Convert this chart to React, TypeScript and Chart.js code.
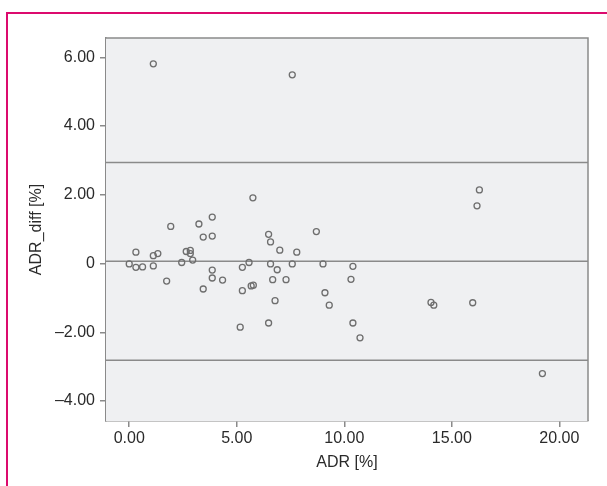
import React, { useEffect, useRef } from "react";
import { Chart, registerables } from "chart.js";

Chart.register(...registerables);

const adrValues = [
  1.12, 7.58, 5.75, 1.93, 3.24, 3.86, 3.44, 3.86, 0.31, 1.12, 1.33, 2.65, 2.84, 2.84, 2.95, 2.44,
  0.0, 0.31, 0.62, 1.12, 6.48, 6.57, 7.0, 7.79, 8.7, 5.57, 5.26, 6.57, 7.58, 9.01, 6.88, 3.86,
  1.74, 3.86, 4.34, 3.44, 5.26, 5.67, 5.77, 6.67, 7.29, 6.78, 5.16, 6.48, 9.1, 9.3, 16.28, 16.17,
  10.4, 10.31, 10.4, 10.73, 14.03, 14.16, 15.97, 19.21,
];
const diffValues = [
  5.81, 5.49, 1.91, 1.08, 1.15, 1.35, 0.77, 0.8, 0.33, 0.23, 0.29, 0.35, 0.38, 0.29, 0.1, 0.03,
  -0.01, -0.11, -0.1, -0.07, 0.85, 0.63, 0.39, 0.33, 0.93, 0.03, -0.11, -0.01, -0.01, -0.01, -0.18, -0.19,
  -0.51, -0.42, -0.48, -0.74, -0.79, -0.65, -0.63, -0.47, -0.47, -1.08, -1.85, -1.73, -0.85, -1.21, 2.14, 1.68,
  -0.08, -0.46, -1.73, -2.16, -1.13, -1.21, -1.14, -3.2,
];
// mean difference and limits of agreement
const referenceLines = [2.94, 0.07, -2.81];

const xMin = -1.08;
const xMax = 21.33;
const yMin = -4.58;
const yMax = 6.56;

const AXIS_GRAY = "#8a8a8a";
const TEXT = "#2a2a2a";
const FONT = "'Liberation Sans', Arial, sans-serif";

const plotDecor = {
  id: "plotDecor",
  beforeDatasetsDraw(chart: any) {
    const { ctx, chartArea } = chart;
    ctx.save();
    ctx.fillStyle = "#eff0f2";
    ctx.fillRect(chartArea.left, chartArea.top, chartArea.right - chartArea.left, chartArea.bottom - chartArea.top);
    const y = chart.scales.y;
    ctx.strokeStyle = AXIS_GRAY;
    ctx.lineWidth = 1.5;
    for (const v of referenceLines) {
      const py = y.getPixelForValue(v);
      ctx.beginPath();
      ctx.moveTo(chartArea.left, py);
      ctx.lineTo(chartArea.right, py);
      ctx.stroke();
    }
    ctx.restore();
  },
  afterDraw(chart: any) {
    const { ctx, chartArea } = chart;
    ctx.save();
    ctx.strokeStyle = AXIS_GRAY;
    ctx.lineWidth = 1.5;
    ctx.beginPath();
    ctx.moveTo(chartArea.left, chartArea.top);
    ctx.lineTo(chartArea.right, chartArea.top);
    ctx.lineTo(chartArea.right, chartArea.bottom);
    ctx.stroke();
    ctx.restore();
  },
};

export default function App() {
  const canvasRef = useRef<HTMLCanvasElement | null>(null);

  useEffect(() => {
    if (!canvasRef.current) return;
    const points = adrValues.map((x, i) => ({ x, y: diffValues[i] }));
    const chart = new Chart(canvasRef.current, {
      type: "scatter",
      data: {
        datasets: [
          {
            data: points,
            pointRadius: 3,
            pointBorderWidth: 1.3,
            pointBorderColor: "#6e6e6e",
            pointBackgroundColor: "rgba(0,0,0,0)",
            pointHoverRadius: 3,
          },
        ],
      },
      options: {
        animation: false,
        responsive: false,
        layout: { padding: { top: 38, right: 19, left: 0, bottom: 0 } },
        plugins: { legend: { display: false }, tooltip: { enabled: false } },
        scales: {
          x: {
            type: "linear",
            min: xMin,
            max: xMax,
            afterFit: (s: any) => {
              s.height = 65;
            },
            ticks: {
              stepSize: 5,
              includeBounds: false,
              padding: 2.4,
              color: TEXT,
              font: { family: FONT, size: 16 },
              callback: (v: any) => Number(v).toFixed(2),
            },
            grid: { drawOnChartArea: false, drawTicks: true, tickLength: 6, color: AXIS_GRAY, lineWidth: 1.5 },
            border: { display: true, color: AXIS_GRAY, width: 1.5 },
            title: {
              display: true,
              text: "ADR [%]",
              color: TEXT,
              font: { family: FONT, size: 16 },
              padding: { top: 0, bottom: 13.4 },
            },
          },
          y: {
            type: "linear",
            min: yMin,
            max: yMax,
            afterFit: (s: any) => {
              s.width = 106;
            },
            ticks: {
              stepSize: 2,
              includeBounds: false,
              padding: 5,
              color: TEXT,
              font: { family: FONT, size: 16 },
              callback: (v: any) => {
                const n = Number(v);
                if (n === 0) return "0";
                return (n < 0 ? "\u2013" : "") + Math.abs(n).toFixed(2);
              },
            },
            grid: { drawOnChartArea: false, drawTicks: true, tickLength: 6, color: AXIS_GRAY, lineWidth: 1.5 },
            border: { display: true, color: AXIS_GRAY, width: 1.5 },
            title: {
              display: true,
              text: "ADR_diff [%]",
              color: TEXT,
              font: { family: FONT, size: 16 },
              padding: { top: 27.4, bottom: 0 },
            },
          },
        },
      },
      plugins: [plotDecor],
    });
    return () => chart.destroy();
  }, []);

  return (
    <div style={{ position: "fixed", left: 0, top: 0, width: 607, height: 486, background: "#fff", overflow: "hidden" }}>
      <canvas ref={canvasRef} width={607} height={486} style={{ position: "absolute", left: 0, top: 0 }} />
      <div
        style={{
          position: "absolute",
          left: 6,
          top: 12,
          width: 700,
          height: 600,
          borderLeft: "2px solid #dc0a6e",
          borderTop: "2px solid #dc0a6e",
          pointerEvents: "none",
        }}
      />
    </div>
  );
}
